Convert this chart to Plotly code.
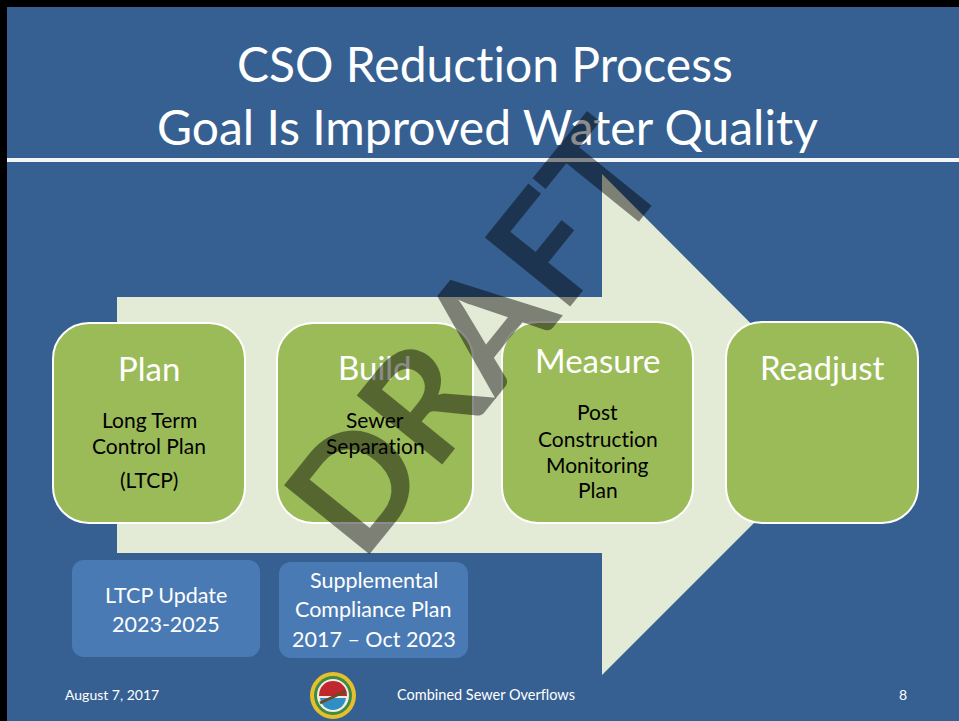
import plotly.graph_objects as go

# ---------------- content ----------------
title_lines = ["CSO Reduction Process", "Goal Is Improved Water Quality"]
step_titles = ["Plan", "Build", "Measure", "Readjust"]
step_details = [
    ["Long Term", "Control Plan", "(LTCP)"],
    ["Sewer", "Separation"],
    ["Post", "Construction", "Monitoring", "Plan"],
    [],
]
note_texts = [
    ["LTCP Update", "2023-2025"],
    ["Supplemental", "Compliance Plan", "2017 \u2013 Oct 2023"],
]
footer_date = "August 7, 2017"
footer_center = "Combined Sewer Overflows"
footer_page = "8"
watermark = "DRAFT"

# ---------------- layout geometry (pixels) ----------------
W, H = 959, 721
BG = "#366092"
GREEN = "#9bbb59"
CREAM = "#e3ead5"
NOTE_BLUE = "#4a7ab4"
FONT = "Lato"

step_boxes = [(53, 323, 245, 523), (277, 323, 473, 523), (502, 322, 693, 523), (726, 322, 918, 523)]
step_title_y = [368, 367, 360, 367]
step_detail_y = [[419, 445, 479], [419, 445], [411, 438, 464, 489], []]
note_boxes = [(72, 560, 260, 657), (279, 562, 468, 658)]
note_y = [[595, 624], [580, 609, 639]]


def nolig(s):
    # break font ligatures (ti, fl) so the text renders letter by letter
    return s.replace("ti", "t\u200ci").replace("fl", "f\u200cl")


def rrect(x0, y0, x1, y1, r):
    k = 0.5523 * r
    return (f"M{x0 + r},{y0} L{x1 - r},{y0} C{x1 - r + k},{y0} {x1},{y0 + r - k} {x1},{y0 + r} "
            f"L{x1},{y1 - r} C{x1},{y1 - r + k} {x1 - r + k},{y1} {x1 - r},{y1} "
            f"L{x0 + r},{y1} C{x0 + r - k},{y1} {x0},{y1 - r + k} {x0},{y1 - r} "
            f"L{x0},{y0 + r} C{x0},{y0 + r - k} {x0 + r - k},{y0} {x0 + r},{y0} Z")


shapes = []
# slide background (black frame shows at top/left)
shapes.append(dict(type="rect", x0=7, y0=7, x1=W, y1=H, fillcolor=BG, line_width=0, layer="below"))
# title separator line
shapes.append(dict(type="line", x0=7, y0=160, x1=W, y1=160, line=dict(color="#f4f6f9", width=4)))
# big arrow
arrow = "M117,297 L602,297 L602,174 L852,425 L602,675 L602,553 L117,553 Z"
shapes.append(dict(type="path", path=arrow, fillcolor=CREAM, line_width=0))
# green step boxes
for (x0, y0, x1, y1) in step_boxes:
    shapes.append(dict(type="path", path=rrect(x0, y0, x1, y1, 36), fillcolor=GREEN,
                       line=dict(color="white", width=2)))
# blue note boxes
for (x0, y0, x1, y1) in note_boxes:
    shapes.append(dict(type="path", path=rrect(x0, y0, x1, y1, 12), fillcolor=NOTE_BLUE, line_width=0))
# logo (seal)
shapes.append(dict(type="circle", x0=310, y0=672, x1=356, y1=719, fillcolor="#e6c02a", line_width=0))
shapes.append(dict(type="circle", x0=314, y0=676, x1=352, y1=715, fillcolor="#3f8a46", line_width=0))
shapes.append(dict(type="circle", x0=317, y0=679, x1=349, y1=712, fillcolor="#f2efe2", line_width=0))
shapes.append(dict(type="path", path="M319,696 C319,687 325,681 333,681 C341,681 347,687 347,696 Z",
                   fillcolor="#c0282d", line_width=0))
shapes.append(dict(type="path", path="M320,698 L346,698 C345,705 340,710 333,710 C326,710 321,705 320,698 Z",
                   fillcolor="#2f8fc4", line_width=0))
shapes.append(dict(type="line", x0=320, y0=703, x1=346, y1=691, line=dict(color="#6b4a2a", width=3)))

annotations = []


def text(x, y, s, size, color, xanchor="center", weight=None):
    f = dict(family=FONT, size=size, color=color)
    if weight:
        f["weight"] = weight
    annotations.append(dict(x=x, y=y, xref="x", yref="y", text=nolig(s), showarrow=False,
                            xanchor=xanchor, yanchor="middle", font=f))


# titles
text(485, 63, title_lines[0], 48, "white")
text(487, 126, title_lines[1], 48, "white")

# steps
for i, (x0, y0, x1, y1) in enumerate(step_boxes):
    cx = (x0 + x1) / 2
    text(cx, step_title_y[i], step_titles[i], 33, "white")
    for line, yy in zip(step_details[i], step_detail_y[i]):
        text(cx, yy, line, 21, "black")

# notes
for i, (x0, y0, x1, y1) in enumerate(note_boxes):
    cx = (x0 + x1) / 2
    for line, yy in zip(note_texts[i], note_y[i]):
        text(cx, yy, line, 21.5, "white")

# footer
text(63, 694, footer_date, 14, "white", xanchor="left")
text(395, 694, footer_center, 14.5, "white", xanchor="left")
text(903, 694, footer_page, 14, "white")

# watermark on top
annotations.append(dict(x=472, y=334, xref="x", yref="y", text=watermark, showarrow=False,
                        xanchor="center", yanchor="middle", textangle=-51,
                        font=dict(family=FONT, size=152, color="rgba(0,0,0,0.45)", weight=700)))

fig = go.Figure()
fig.update_layout(
    width=W, height=H,
    margin=dict(l=0, r=0, t=0, b=0),
    paper_bgcolor="black", plot_bgcolor="black",
    xaxis=dict(range=[0, W], visible=False, fixedrange=True),
    yaxis=dict(range=[H, 0], visible=False, fixedrange=True),
    shapes=shapes, annotations=annotations, showlegend=False,
)
fig.write_html("out.html", config={"displayModeBar": False, "staticPlot": True},
               post_script="document.body.style.margin='0';document.body.style.background='black';")
